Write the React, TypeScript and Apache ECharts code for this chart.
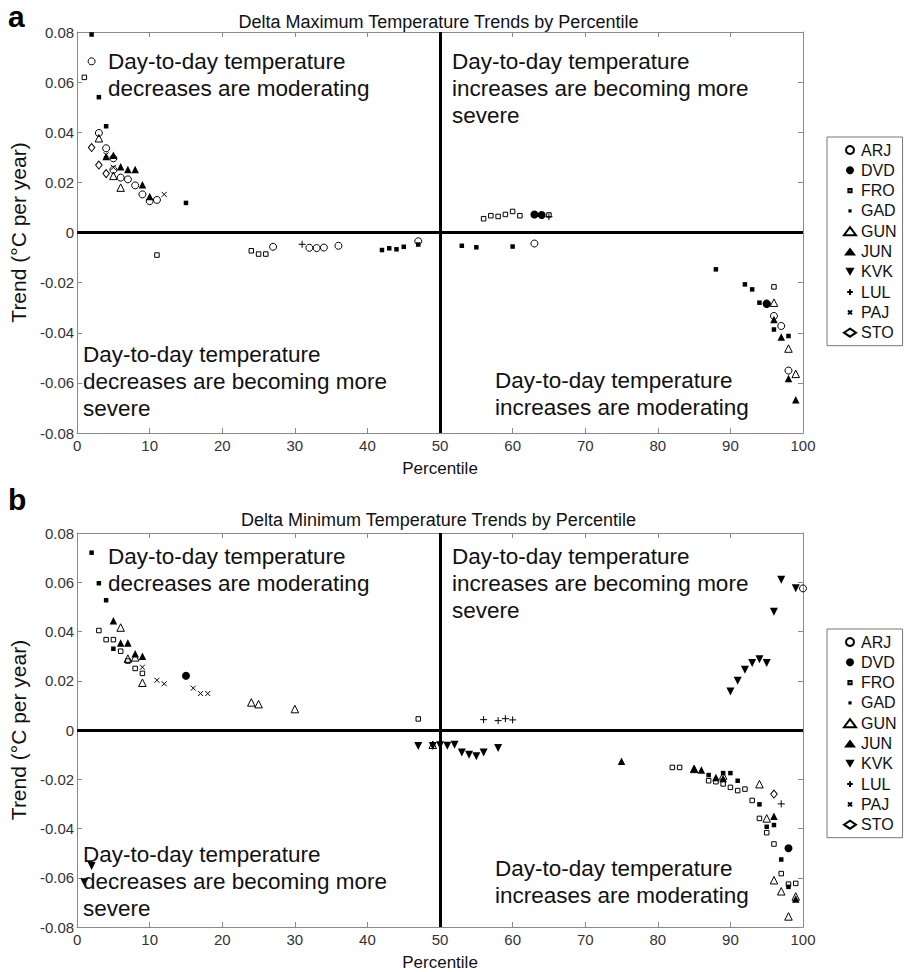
import React, { useEffect, useRef } from 'react';
import * as echarts from 'echarts';

const FONT = '"Liberation Sans", Arial, Helvetica, sans-serif';

const stations = ['ARJ', 'DVD', 'FRO', 'GAD', 'GUN', 'JUN', 'KVK', 'LUL', 'PAJ', 'STO'];

const xTickValues = [0, 10, 20, 30, 40, 50, 60, 70, 80, 90, 100];
const yTickValues = [-0.08, -0.06, -0.04, -0.02, 0, 0.02, 0.04, 0.06, 0.08];
const yTickLabels = ['-0.08', '-0.06', '-0.04', '-0.02', '0', '0.02', '0.04', '0.06', '0.08'];

const panelTitles = [
  'Delta Maximum Temperature Trends by Percentile',
  'Delta Minimum Temperature Trends by Percentile',
];
const panelLetters = ['a', 'b'];
const quadrantTexts = [
  'Day-to-day temperature\ndecreases are moderating',
  'Day-to-day temperature\nincreases are becoming more\nsevere',
  'Day-to-day temperature\ndecreases are becoming more\nsevere',
  'Day-to-day temperature\nincreases are moderating',
];

// Panel a: Delta maximum temperature trends, [percentile, trend °C/yr]
const maxARJ = [[2, 0.0683], [3, 0.0397], [4, 0.0336], [5, 0.0296], [5, 0.025], [6, 0.0219], [7, 0.0212], [8, 0.0188], [9, 0.0152], [10, 0.0125], [11, 0.013], [27, -0.0057], [32, -0.0061], [33, -0.0062], [34, -0.006], [36, -0.0053], [47, -0.0035], [63, -0.0044], [95, -0.0283], [96, -0.0333], [97, -0.0373], [98, -0.0551]];
const maxDVD = [[63, 0.0072], [64, 0.007], [95, -0.0285]];
const maxFRO = [[1, 0.0619], [11, -0.009], [24, -0.0073], [25, -0.0086], [26, -0.0086], [56, 0.0055], [57, 0.0067], [58, 0.0064], [59, 0.0072], [60, 0.0084], [61, 0.0067], [65, 0.007], [96, -0.0217]];
const maxGAD = [[2, 0.079], [3, 0.054], [4, 0.0424], [15, 0.0118], [42, -0.007], [43, -0.0063], [44, -0.0067], [45, -0.0057], [47, -0.0048], [53, -0.0053], [55, -0.0059], [60, -0.0056], [88, -0.0147], [92, -0.0207], [93, -0.0227], [94, -0.028], [96, -0.0387], [98, -0.0413]];
const maxGUN = [[3, 0.0376], [5, 0.0226], [6, 0.0179], [96, -0.028], [98, -0.0463], [99, -0.0564]];
const maxJUN = [[4, 0.0303], [5, 0.0308], [6, 0.0262], [7, 0.0251], [8, 0.0251], [9, 0.0191], [10, 0.0144], [96, -0.0347], [97, -0.0417], [98, -0.0583], [99, -0.0667]];
const maxKVK: number[][] = [];
const maxLUL = [[31, -0.0047], [65, 0.0063]];
const maxPAJ = [[4, 0.031], [5, 0.026], [12, 0.0152]];
const maxSTO = [[2, 0.0339], [3, 0.0269], [4, 0.0235]];

// Panel b: Delta minimum temperature trends, [percentile, trend °C/yr]
const minARJ = [[100, 0.0575]];
const minDVD = [[15, 0.022], [98, -0.048]];
const minFRO = [[3, 0.0404], [4, 0.0367], [5, 0.0367], [6, 0.032], [7, 0.028], [8, 0.025], [9, 0.023], [47, 0.0045], [82, -0.0152], [83, -0.0152], [87, -0.0206], [88, -0.021], [89, -0.0219], [90, -0.0233], [91, -0.0246], [92, -0.024], [93, -0.0286], [94, -0.0359], [95, -0.0417], [96, -0.0463], [97, -0.0583], [98, -0.0626], [99, -0.0623]];
const minGAD = [[2, 0.072], [3, 0.0596], [4, 0.0527], [5, 0.033], [87, -0.0183], [89, -0.0175], [90, -0.0175], [91, -0.0206], [94, -0.0302], [95, -0.0393], [96, -0.0386], [97, -0.0526], [98, -0.0637]];
const minGUN = [[6, 0.0416], [7, 0.029], [8, 0.0295], [9, 0.0192], [24, 0.0112], [25, 0.0105], [30, 0.0085], [49, -0.006], [85, -0.0158], [89, -0.0185], [94, -0.022], [95, -0.0359], [96, -0.061], [97, -0.0655], [98, -0.0757], [99, -0.0676]];
const minJUN = [[5, 0.0444], [6, 0.0353], [7, 0.0353], [8, 0.031], [9, 0.03], [75, -0.0127], [85, -0.0157], [86, -0.0162], [88, -0.0193], [89, -0.0197], [96, -0.035], [99, -0.0686]];
const minKVK = [[1, -0.0618], [2, -0.0552], [47, -0.0065], [49, -0.0065], [50, -0.0062], [51, -0.0064], [52, -0.006], [53, -0.0091], [54, -0.01], [55, -0.0107], [56, -0.0091], [58, -0.0073], [90, 0.0156], [91, 0.02], [92, 0.0245], [93, 0.0272], [94, 0.0287], [95, 0.0272], [96, 0.048], [97, 0.061], [99, 0.0576]];
const minLUL = [[56, 0.0042], [58, 0.0038], [59, 0.0046], [60, 0.0041], [97, -0.03]];
const minPAJ = [[9, 0.0255], [11, 0.0202], [12, 0.0188], [16, 0.017], [17, 0.0148], [18, 0.0148]];
const minSTO = [[96, -0.026]];

const panelData = [
  { ARJ: maxARJ, DVD: maxDVD, FRO: maxFRO, GAD: maxGAD, GUN: maxGUN, JUN: maxJUN, KVK: maxKVK, LUL: maxLUL, PAJ: maxPAJ, STO: maxSTO },
  { ARJ: minARJ, DVD: minDVD, FRO: minFRO, GAD: minGAD, GUN: minGUN, JUN: minJUN, KVK: minKVK, LUL: minLUL, PAJ: minPAJ, STO: minSTO },
];

const OPEN = 'rgba(0,0,0,0)';
const markerStyles: Record<string, any> = {
  ARJ: { symbol: 'circle', size: 7, fill: OPEN, bw: 1 },
  DVD: { symbol: 'circle', size: 8, fill: '#000', bw: 0 },
  FRO: { symbol: 'rect', size: 4.5, fill: OPEN, bw: 1, icon: 'path://M0,0M10,10M3,3L7,3L7,7L3,7Z' },
  GAD: { symbol: 'rect', size: 4.5, fill: '#000', bw: 0, icon: 'path://M0,0M10,10M3,3L7,3L7,7L3,7Z' },
  GUN: { symbol: 'triangle', size: 7.5, fill: OPEN, bw: 1 },
  JUN: { symbol: 'triangle', size: 7.5, fill: '#000', bw: 0 },
  KVK: { symbol: 'path://M0,0L10,0L5,8.7Z', size: 8, fill: '#000', bw: 0 },
  LUL: { symbol: 'path://M5,0L5,10M0,5L10,5', size: 7, fill: OPEN, bw: 1, icon: 'path://M0,0M10,10M5,1.5L5,8.5M1.5,5L8.5,5' },
  PAJ: { symbol: 'path://M0,0L10,10M10,0L0,10', size: 5, fill: OPEN, bw: 1, icon: 'path://M0,0M10,10M2.5,2.5L7.5,7.5M7.5,2.5L2.5,7.5' },
  STO: { symbol: 'diamond', size: [6.5, 8], fill: OPEN, bw: 1 },
};

const layout = [
  { top: 32, height: 401, legendTop: 137, titleTop: 8, letterTop: 1, tl: 48, tr: 48, bl: 341, br: 367 },
  { top: 533, height: 400, legendTop: 629, titleTop: 506, letterTop: 484, tl: 543, tr: 543, bl: 841, br: 855 },
];
const GRID_LEFT = 64;
const GRID_WIDTH = 739;

function yLabel(v: number) {
  const i = yTickValues.findIndex((t) => Math.abs(t - v) < 1e-9);
  return i >= 0 ? yTickLabels[i] : '';
}

function buildOption() {
  const grids: any[] = [];
  const xAxes: any[] = [];
  const yAxes: any[] = [];
  const series: any[] = [];
  const titles: any[] = [];
  const legends: any[] = [];
  const graphics: any[] = [];
  const axisGray = '#8a8a8a';

  layout.forEach((L, g) => {
    grids.push({ left: GRID_LEFT, top: L.top, width: GRID_WIDTH, height: L.height, containLabel: false });
    const xBase = {
      gridIndex: g, type: 'value', min: xTickValues[0], max: xTickValues[xTickValues.length - 1], interval: 10,
      splitLine: { show: false },
      axisLine: { show: true, onZero: false, lineStyle: { color: axisGray, width: 1 } },
      axisTick: { show: true, inside: true, length: 5, lineStyle: { color: axisGray } },
    };
    xAxes.push({
      ...xBase, position: 'bottom', name: 'Percentile', nameLocation: 'middle', nameGap: 27,
      nameTextStyle: { fontSize: 17, fontFamily: FONT, color: '#111' },
      axisLabel: { show: true, fontSize: 15, fontFamily: FONT, color: '#333', margin: 5 },
    });
    xAxes.push({ ...xBase, position: 'top', axisLabel: { show: false } });
    const yBase = {
      gridIndex: g, type: 'value', min: yTickValues[0], max: yTickValues[yTickValues.length - 1], interval: 0.02,
      splitLine: { show: false },
      axisLine: { show: true, onZero: false, lineStyle: { color: axisGray, width: 1 } },
      axisTick: { show: true, inside: true, length: 5, lineStyle: { color: axisGray } },
    };
    yAxes.push({
      ...yBase, position: 'left', name: 'Trend (°C per year)', nameLocation: 'middle', nameGap: 37, nameRotate: 90,
      nameTextStyle: { fontSize: 21, fontFamily: FONT, color: '#111' },
      axisLabel: { show: true, fontSize: 15, fontFamily: FONT, color: '#333', margin: 3, formatter: yLabel },
    });
    yAxes.push({ ...yBase, position: 'right', axisLabel: { show: false } });

    const data: any = panelData[g];
    stations.forEach((name, si) => {
      const m = markerStyles[name];
      const s: any = {
        name, type: 'scatter', xAxisIndex: g * 2, yAxisIndex: g * 2,
        symbol: m.symbol, symbolSize: m.size, silent: true, z: 3,
        itemStyle: { color: m.fill, borderColor: '#000', borderWidth: m.bw, opacity: 1 },
        emphasis: { disabled: true },
        data: data[name],
      };
      if (si === 0) {
        s.markLine = {
          silent: true, symbol: ['none', 'none'], label: { show: false }, z: 2,
          lineStyle: { color: '#000', width: 3, type: 'solid' },
          emphasis: { disabled: true },
          data: [{ yAxis: 0 }, { xAxis: 50 }],
        };
      }
      series.push(s);
    });

    titles.push({
      text: panelTitles[g], left: GRID_LEFT + GRID_WIDTH / 2, top: L.titleTop, textAlign: 'center',
      textStyle: { fontSize: 18, fontWeight: 'normal', fontFamily: FONT, color: '#111' },
    });

    legends.push({
      orient: 'vertical', left: 827, top: L.legendTop, selectedMode: false,
      padding: [5, 6, 5, 16], itemWidth: 12, itemHeight: 8, itemGap: 4.3, itemTextGap: 6,
      borderColor: '#777', borderWidth: 1, backgroundColor: '#fff',
      textStyle: { fontSize: 16, fontFamily: FONT, color: '#111', lineHeight: 16 },
      data: stations.map((name) => {
        const m = markerStyles[name];
        return m.icon ? { name, icon: m.icon } : { name };
      }),
    });

    graphics.push({
      type: 'text', x: 8, y: L.letterTop,
      style: { text: panelLetters[g], fontSize: 30, fontWeight: 'bold', fontFamily: FONT, fill: '#000' },
    });
    const qs = [
      { x: 108, y: L.tl, t: quadrantTexts[0] },
      { x: 452, y: L.tr, t: quadrantTexts[1] },
      { x: 83, y: L.bl, t: quadrantTexts[2] },
      { x: 495, y: L.br, t: quadrantTexts[3] },
    ];
    qs.forEach((q) => {
      graphics.push({
        type: 'text', x: q.x, y: q.y, z: 10,
        style: { text: q.t, fontSize: 22.5, fontFamily: FONT, fill: '#111', lineHeight: 27 },
      });
    });
  });

  return {
    animation: false,
    backgroundColor: '#fff',
    title: titles,
    legend: legends,
    grid: grids,
    xAxis: xAxes,
    yAxis: yAxes,
    series,
    graphic: graphics,
  };
}

export default function App() {
  const ref = useRef<HTMLDivElement>(null);
  useEffect(() => {
    if (!ref.current) return;
    const chart = echarts.init(ref.current, null, { renderer: 'svg' });
    chart.setOption(buildOption() as any);
    return () => chart.dispose();
  }, []);
  return (
    <div
      ref={ref}
      style={{ position: 'fixed', left: 0, top: 0, width: 910, height: 972, background: '#fff' }}
    />
  );
}
